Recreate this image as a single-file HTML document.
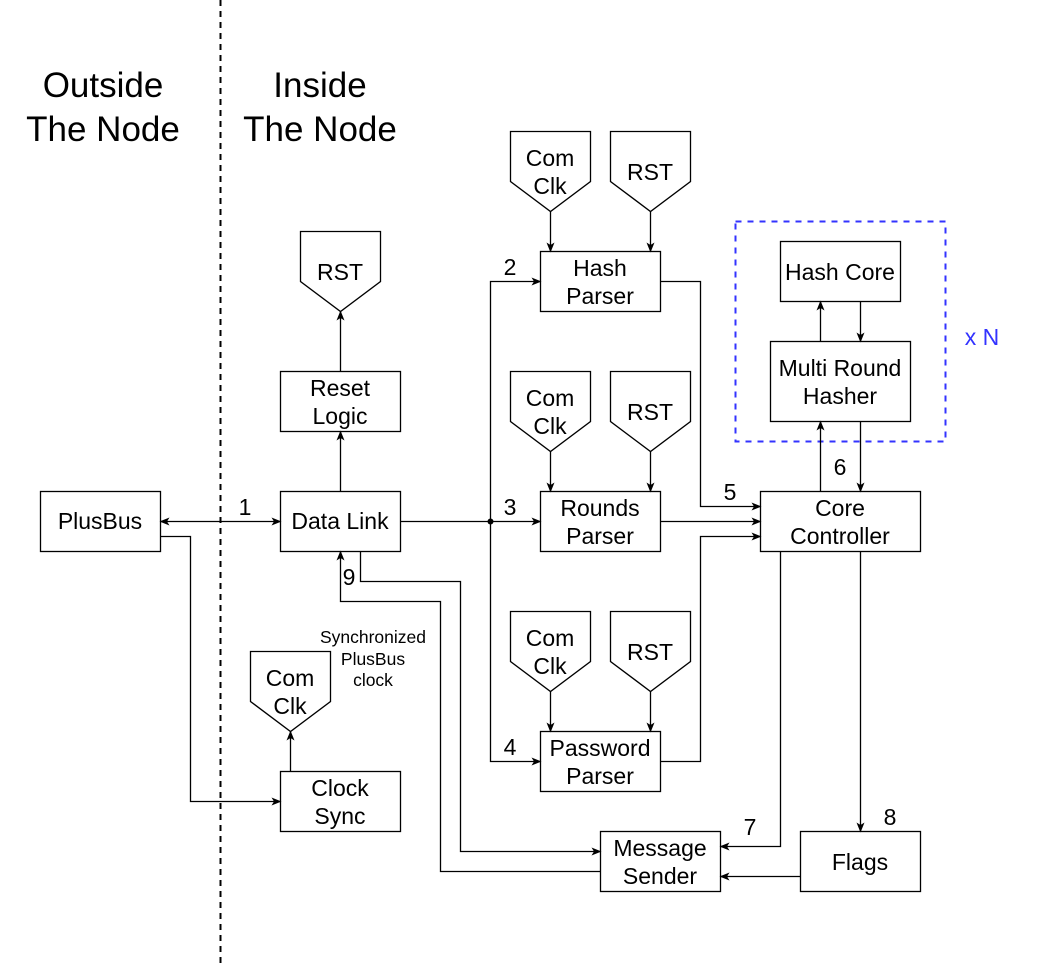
<!DOCTYPE html>
<html><head><meta charset="utf-8"><style>
html,body{margin:0;padding:0;background:#fff;}
svg{display:block;}
text{font-family:"Liberation Sans",Arial,sans-serif;fill:#000;}
</style></head><body>
<svg width="1042" height="965" viewBox="0 0 1042 965" xmlns="http://www.w3.org/2000/svg">
<defs>
<marker id="a" markerWidth="12" markerHeight="12" refX="9" refY="5" orient="auto" markerUnits="userSpaceOnUse">
<path d="M0,1 L10,5 L0,9 L2.5,5 z" fill="#000"/>
</marker>
</defs>
<g fill="none" stroke="#000" stroke-width="1.3">
<line x1="220.5" y1="0" x2="220.5" y2="965" stroke-width="2" stroke-dasharray="6,5"/>
<rect x="40.5" y="491.5" width="120" height="60"/>
<rect x="280.5" y="491.5" width="120" height="60"/>
<rect x="280.5" y="371.5" width="120" height="60"/>
<rect x="280.5" y="771.5" width="120" height="60"/>
<rect x="540.5" y="251.5" width="120" height="60"/>
<rect x="540.5" y="491.5" width="120" height="60"/>
<rect x="540.5" y="731.5" width="120" height="60"/>
<rect x="780.5" y="241.5" width="120" height="60"/>
<rect x="770.5" y="341.5" width="140" height="80"/>
<rect x="760.5" y="491.5" width="160" height="60"/>
<rect x="800.5" y="831.5" width="120" height="60"/>
<rect x="600.5" y="831.5" width="120" height="60"/>
<rect x="735.5" y="221.5" width="210" height="220" stroke="#3333ff" stroke-width="2" stroke-dasharray="6,6"/>
<path d="M300.5,231.5 H380.5 V281.5 L340.5,311.5 L300.5,281.5 Z"/>
<path d="M250.5,651.5 H330.5 V701.5 L290.5,731.5 L250.5,701.5 Z"/>
<path d="M510.5,131.5 H590.5 V181.5 L550.5,211.5 L510.5,181.5 Z"/>
<path d="M610.5,131.5 H690.5 V181.5 L650.5,211.5 L610.5,181.5 Z"/>
<path d="M510.5,371.5 H590.5 V421.5 L550.5,451.5 L510.5,421.5 Z"/>
<path d="M610.5,371.5 H690.5 V421.5 L650.5,451.5 L610.5,421.5 Z"/>
<path d="M510.5,611.5 H590.5 V661.5 L550.5,691.5 L510.5,661.5 Z"/>
<path d="M610.5,611.5 H690.5 V661.5 L650.5,691.5 L610.5,661.5 Z"/>
<line x1="220.5" y1="521.5" x2="160.5" y2="521.5" marker-end="url(#a)"/>
<line x1="220.5" y1="521.5" x2="280.5" y2="521.5" marker-end="url(#a)"/>
<polyline points="160.5,536.5 190.5,536.5 190.5,801.5 280.5,801.5" marker-end="url(#a)"/>
<line x1="290.5" y1="771.5" x2="290.5" y2="731.5" marker-end="url(#a)"/>
<line x1="340.5" y1="491.5" x2="340.5" y2="431.5" marker-end="url(#a)"/>
<line x1="340.5" y1="371.5" x2="340.5" y2="311.5" marker-end="url(#a)"/>
<line x1="400.5" y1="521.5" x2="540.5" y2="521.5" marker-end="url(#a)"/>
<polyline points="490.5,521.5 490.5,281.5 540.5,281.5" marker-end="url(#a)"/>
<polyline points="490.5,521.5 490.5,761.5 540.5,761.5" marker-end="url(#a)"/>
<line x1="550.5" y1="211.5" x2="550.5" y2="251.5" marker-end="url(#a)"/>
<line x1="650.5" y1="211.5" x2="650.5" y2="251.5" marker-end="url(#a)"/>
<line x1="550.5" y1="451.5" x2="550.5" y2="491.5" marker-end="url(#a)"/>
<line x1="650.5" y1="451.5" x2="650.5" y2="491.5" marker-end="url(#a)"/>
<line x1="550.5" y1="691.5" x2="550.5" y2="731.5" marker-end="url(#a)"/>
<line x1="650.5" y1="691.5" x2="650.5" y2="731.5" marker-end="url(#a)"/>
<polyline points="660.5,281.5 700.5,281.5 700.5,506.5 760.5,506.5" marker-end="url(#a)"/>
<line x1="660.5" y1="521.5" x2="760.5" y2="521.5" marker-end="url(#a)"/>
<polyline points="660.5,761.5 700.5,761.5 700.5,536.5 760.5,536.5" marker-end="url(#a)"/>
<line x1="820.5" y1="491.5" x2="820.5" y2="421.5" marker-end="url(#a)"/>
<line x1="860.5" y1="421.5" x2="860.5" y2="491.5" marker-end="url(#a)"/>
<line x1="820.5" y1="341.5" x2="820.5" y2="301.5" marker-end="url(#a)"/>
<line x1="860.5" y1="301.5" x2="860.5" y2="341.5" marker-end="url(#a)"/>
<line x1="860.5" y1="551.5" x2="860.5" y2="831.5" marker-end="url(#a)"/>
<polyline points="780.5,551.5 780.5,846.5 720.5,846.5" marker-end="url(#a)"/>
<line x1="800.5" y1="876.5" x2="720.5" y2="876.5" marker-end="url(#a)"/>
<polyline points="360.5,551.5 360.5,581.5 460.5,581.5 460.5,851.5 600.5,851.5" marker-end="url(#a)"/>
<polyline points="600.5,871.5 440.5,871.5 440.5,601.5 340.5,601.5 340.5,551.5" marker-end="url(#a)"/>
</g>
<circle cx="490.5" cy="521.5" r="3" fill="#000"/>
<g font-size="35" text-anchor="middle">
<text x="103" y="97">Outside</text><text x="103" y="141">The Node</text>
<text x="320" y="97">Inside</text><text x="320" y="141">The Node</text>
</g>
<g font-size="23" text-anchor="middle">
<text x="100" y="529">PlusBus</text>
<text x="340" y="529">Data Link</text>
<text x="340" y="396">Reset</text><text x="340" y="424">Logic</text>
<text x="340" y="796">Clock</text><text x="340" y="824">Sync</text>
<text x="600" y="276">Hash</text><text x="600" y="304">Parser</text>
<text x="600" y="516">Rounds</text><text x="600" y="544">Parser</text>
<text x="600" y="756">Password</text><text x="600" y="784">Parser</text>
<text x="840" y="280">Hash Core</text>
<text x="840" y="376">Multi Round</text><text x="840" y="404">Hasher</text>
<text x="840" y="516">Core</text><text x="840" y="544">Controller</text>
<text x="860" y="870">Flags</text>
<text x="660" y="856">Message</text><text x="660" y="884">Sender</text>
<text x="340" y="280">RST</text>
<text x="290" y="686">Com</text><text x="290" y="714">Clk</text>
<text x="550" y="166">Com</text><text x="550" y="194">Clk</text>
<text x="650" y="180">RST</text>
<text x="550" y="406">Com</text><text x="550" y="434">Clk</text>
<text x="650" y="420">RST</text>
<text x="550" y="646">Com</text><text x="550" y="674">Clk</text>
<text x="650" y="660">RST</text>
<text x="245" y="515">1</text>
<text x="510" y="275">2</text>
<text x="510" y="515">3</text>
<text x="510" y="755">4</text>
<text x="730" y="500">5</text>
<text x="840" y="475">6</text>
<text x="750" y="835">7</text>
<text x="890" y="825">8</text>
<text x="349" y="585">9</text>
<text x="982" y="345" style="fill:#3333ff">x N</text>
</g>
<g font-size="17.5" text-anchor="middle">
<text x="373" y="643">Synchronized</text>
<text x="373" y="665">PlusBus</text>
<text x="373" y="686">clock</text>
</g>
</svg>
</body></html>
